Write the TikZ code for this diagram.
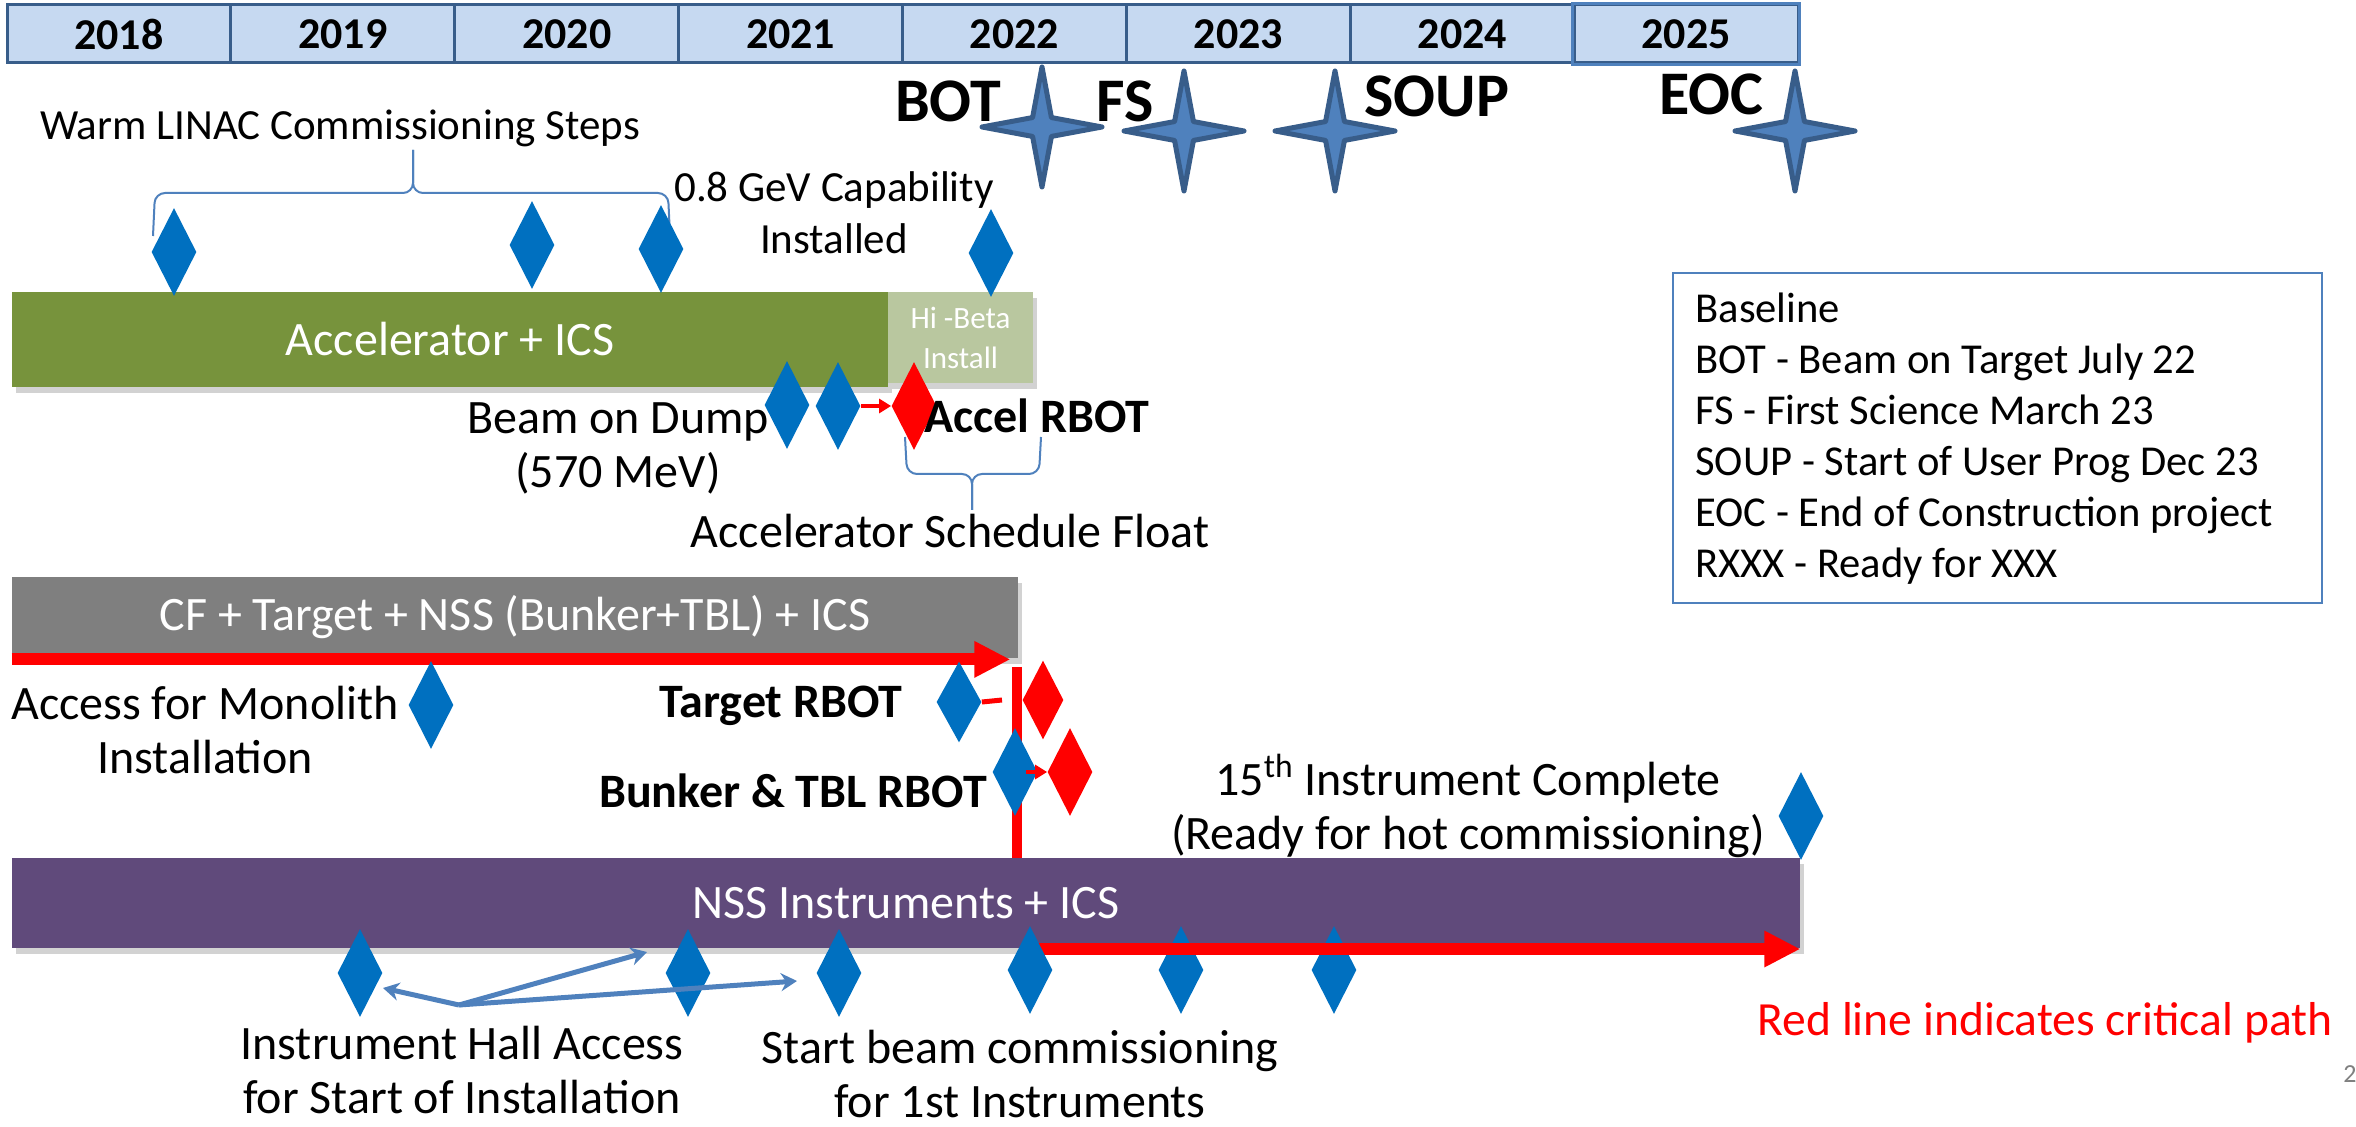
\documentclass[tikz,border=0pt]{standalone}
\usepackage{fontspec}
\setmainfont{Carlito}
\usetikzlibrary{shapes.geometric,arrows.meta,shadows,positioning}

\definecolor{yearfill}{HTML}{C6D9F1}
\definecolor{yearline}{HTML}{385D8A}
\definecolor{starblue}{HTML}{4F81BD}
\definecolor{msblue}{HTML}{0070C0}
\definecolor{accgreen}{HTML}{77933C}
\definecolor{hibeta}{HTML}{B9C79F}
\definecolor{cfgray}{HTML}{7F7F7F}
\definecolor{nsspurple}{HTML}{604A7B}
\definecolor{critred}{HTML}{FF0000}

\newcommand{\fs}[2]{\fontsize{#1}{#2}\selectfont}

\begin{document}
\begin{tikzpicture}[x=0.5pt,y=-0.5pt,
    yearcell/.style={rectangle,draw=yearline,line width=1.5pt,fill=yearfill,minimum width=111.95pt,minimum height=29pt,inner sep=0pt,font=\fs{22}{26}\bfseries},
    mstar/.style={star,star points=4,star point ratio=4.5,minimum size=60pt,inner sep=0pt,fill=starblue,draw=yearline,line width=2.5pt,line join=round},
    bdia/.style={diamond,fill=msblue,inner sep=0pt,minimum width=22.5pt,minimum height=44pt},
    rdia/.style={bdia,fill=critred},
    bar/.style={rectangle,inner sep=0pt,text=white,font=\fs{24}{27},drop shadow={shadow xshift=2pt,shadow yshift=-3pt,opacity=.35}},
    lbl/.style={font=\fs{24}{27},align=center,inner sep=0pt},
    blbl/.style={font=\fs{24}{27}\bfseries,inner sep=0pt,anchor=base},
    mslbl/.style={font=\fs{31}{36}\bfseries,inner sep=0pt,anchor=base},
    brace/.style={draw=starblue,line width=1pt,rounded corners=5pt},
    crit/.style={draw=critred,line width=6pt,-{Triangle[length=18pt,width=17pt]}},
    smallarr/.style={draw=critred,line width=2pt,-{Triangle[length=6pt,width=7pt]}},
    ptr/.style={draw=starblue,line width=2.5pt,-{Stealth[length=8pt,width=9pt]}}]
    \path[use as bounding box,fill=white] (0,0) rectangle (2356,1127);

    % years
    \foreach \yr [count=\i from 0] in {2018,...,2025}
        \node[yearcell](y\yr) at ({7+223.9*(\i+0.5)},34){\yr};
    \draw[starblue,line width=1.5pt] (y2025.north west) rectangle (y2025.south east);

    % milestones
    \node[mstar](bot) at (1042,127){};
    \node[mstar](fs) at (1184,131){};
    \node[mstar](soup) at (1335,131){};
    \node[mstar](eoc) at (1795,131){};
    \node[mslbl](botl) at (948,122){BOT};
    \node[mslbl](fsl) at (1125,122){FS};
    \node[mslbl](soupl) at (1437,117){SOUP};
    \node[mslbl](eocl) at (1711,115){EOC};

    % accelerator
    \node[lbl,font=\fs{21.5}{27},anchor=base](warm) at (340,140){Warm LINAC Commissioning Steps};
    \draw[brace] (153,236) -- (155,193) -- (413,193) -- (413,150);
    \draw[brace] (413,150) -- (413,193) -- (668,193) -- (670,236);
    \node[lbl,font=\fs{21.5}{26}](gevl) at (834,213){0.8 GeV Capability\\Installed};
    \node[bar,fill=accgreen,minimum width=438pt,minimum height=47.5pt](acc) at (450,339.5){Accelerator + ICS};
    \node[bar,fill=hibeta,minimum width=72.5pt,minimum height=45.5pt,font=\fs{15.5}{20},align=center](hib) at (960.5,337.5){Hi -Beta\\Install};
    \node[bdia](w1) at (174,252){};
    \node[bdia](w2) at (532,245){};
    \node[bdia](w3) at (661,249){};
    \node[bdia](gev) at (991,253){};
    \node[bdia](bd1) at (787,405){};
    \node[bdia](bd2) at (838,406){};
    \node[rdia](accr) at (914,406){};
    \draw[smallarr] (bd2.east) -- (accr.west);
    \node[lbl](dump) at (618,448){Beam on Dump\\(570 MeV)};
    \node[blbl](accrl) at (1037,433){Accel RBOT};
    \draw[brace] (905,437) -- (907,474) -- (972,474) -- (972,510);
    \draw[brace] (972,510) -- (972,474) -- (1039,474) -- (1041,437);
    \node[lbl,anchor=base](float) at (950,548){Accelerator Schedule Float};

    % target
    \node[bar,fill=cfgray,minimum width=503pt,minimum height=40.5pt](cf) at (515,617.5){CF + Target + NSS (Bunker+TBL) + ICS};
    \draw[crit] ([yshift=-0.5pt]cf.south west) -- ([xshift=-4pt,yshift=-0.5pt]cf.south east);
    \node[bar,fill=nsspurple,minimum width=894pt,minimum height=45pt](nss) at (906,903){NSS Instruments + ICS};
    \coordinate(vtop) at (1017,667);
    \draw[critred,line width=5pt] (vtop) -- (vtop |- nss.north);
    \node[bdia](mono) at (431,705){};
    \node[lbl](accm) at (205,730){Access for Monolith\\Installation};
    \node[bdia,minimum height=40.5pt](tgb) at (959,702){};
    \node[rdia,minimum width=20.5pt,minimum height=39.5pt](tgr) at (1043,700){};
    \coordinate(tgend) at (1002,700);
    \draw[critred,line width=2.5pt] (tgb.east) -- (tgend);
    \node[blbl](tgl) at (781,718){Target RBOT};
    \node[bdia](bkb) at (1015,772){};
    \node[rdia](bkr) at (1070,772){};
    \draw[smallarr] ([xshift=-6pt]bkb.east) -- (bkr.west);
    \node[blbl](bkl) at (793,807){Bunker \& TBL RBOT};

    % instruments
    \node[bdia](fif) at (1801,816){};
    \node[lbl](fifl) at (1468,806){15\textsuperscript{th} Instrument Complete\\(Ready for hot commissioning)};
    \node[bdia](i1) at (360,973){};
    \node[bdia](i2) at (688,973){};
    \node[bdia](i3) at (839,973){};
    \node[bdia](i5) at (1181,970){};
    \node[bdia](i6) at (1334,970){};
    \coordinate(nssfrom) at (1026,949);
    \draw[crit] (nssfrom) -- (nssfrom -| nss.east);
    \node[bdia](i4) at (1030,970){};
    \coordinate(ihroot) at (459,1005);
    \coordinate(iha) at (383,988);
    \coordinate(ihb) at (647,952);
    \coordinate(ihc) at (797,981);
    \draw[ptr] (ihroot) -- (iha);
    \draw[ptr] (ihroot) -- (ihb);
    \draw[ptr] (ihroot) -- (ihc);
    \node[lbl](ihall) at (462,1070){Instrument Hall Access\\for Start of Installation};
    \node[lbl](sbc) at (1020,1074){Start beam commissioning\\for 1st Instruments};

    % legend
    \node[draw=starblue,line width=1pt,minimum width=324.5pt,minimum height=165pt,inner sep=0pt](legbox) at (1997.5,438){};
    \node[font=\fs{21.3}{25.5},align=left,anchor=west,inner sep=0pt](legend) at (1695,439){Baseline\\BOT - Beam on Target July 22\\FS - First Science March 23\\SOUP - Start of User Prog Dec 23\\EOC - End of Construction project\\RXXX - Ready for XXX};
    \node[font=\fs{23.8}{26},text=critred,anchor=base,inner sep=0pt](critnote) at (2045,1035){Red line indicates critical path};
    \node[font=\fs{13}{15},text=gray,anchor=base west,inner sep=0pt](pgno) at (2343,1082){2};
\end{tikzpicture}
\end{document}
